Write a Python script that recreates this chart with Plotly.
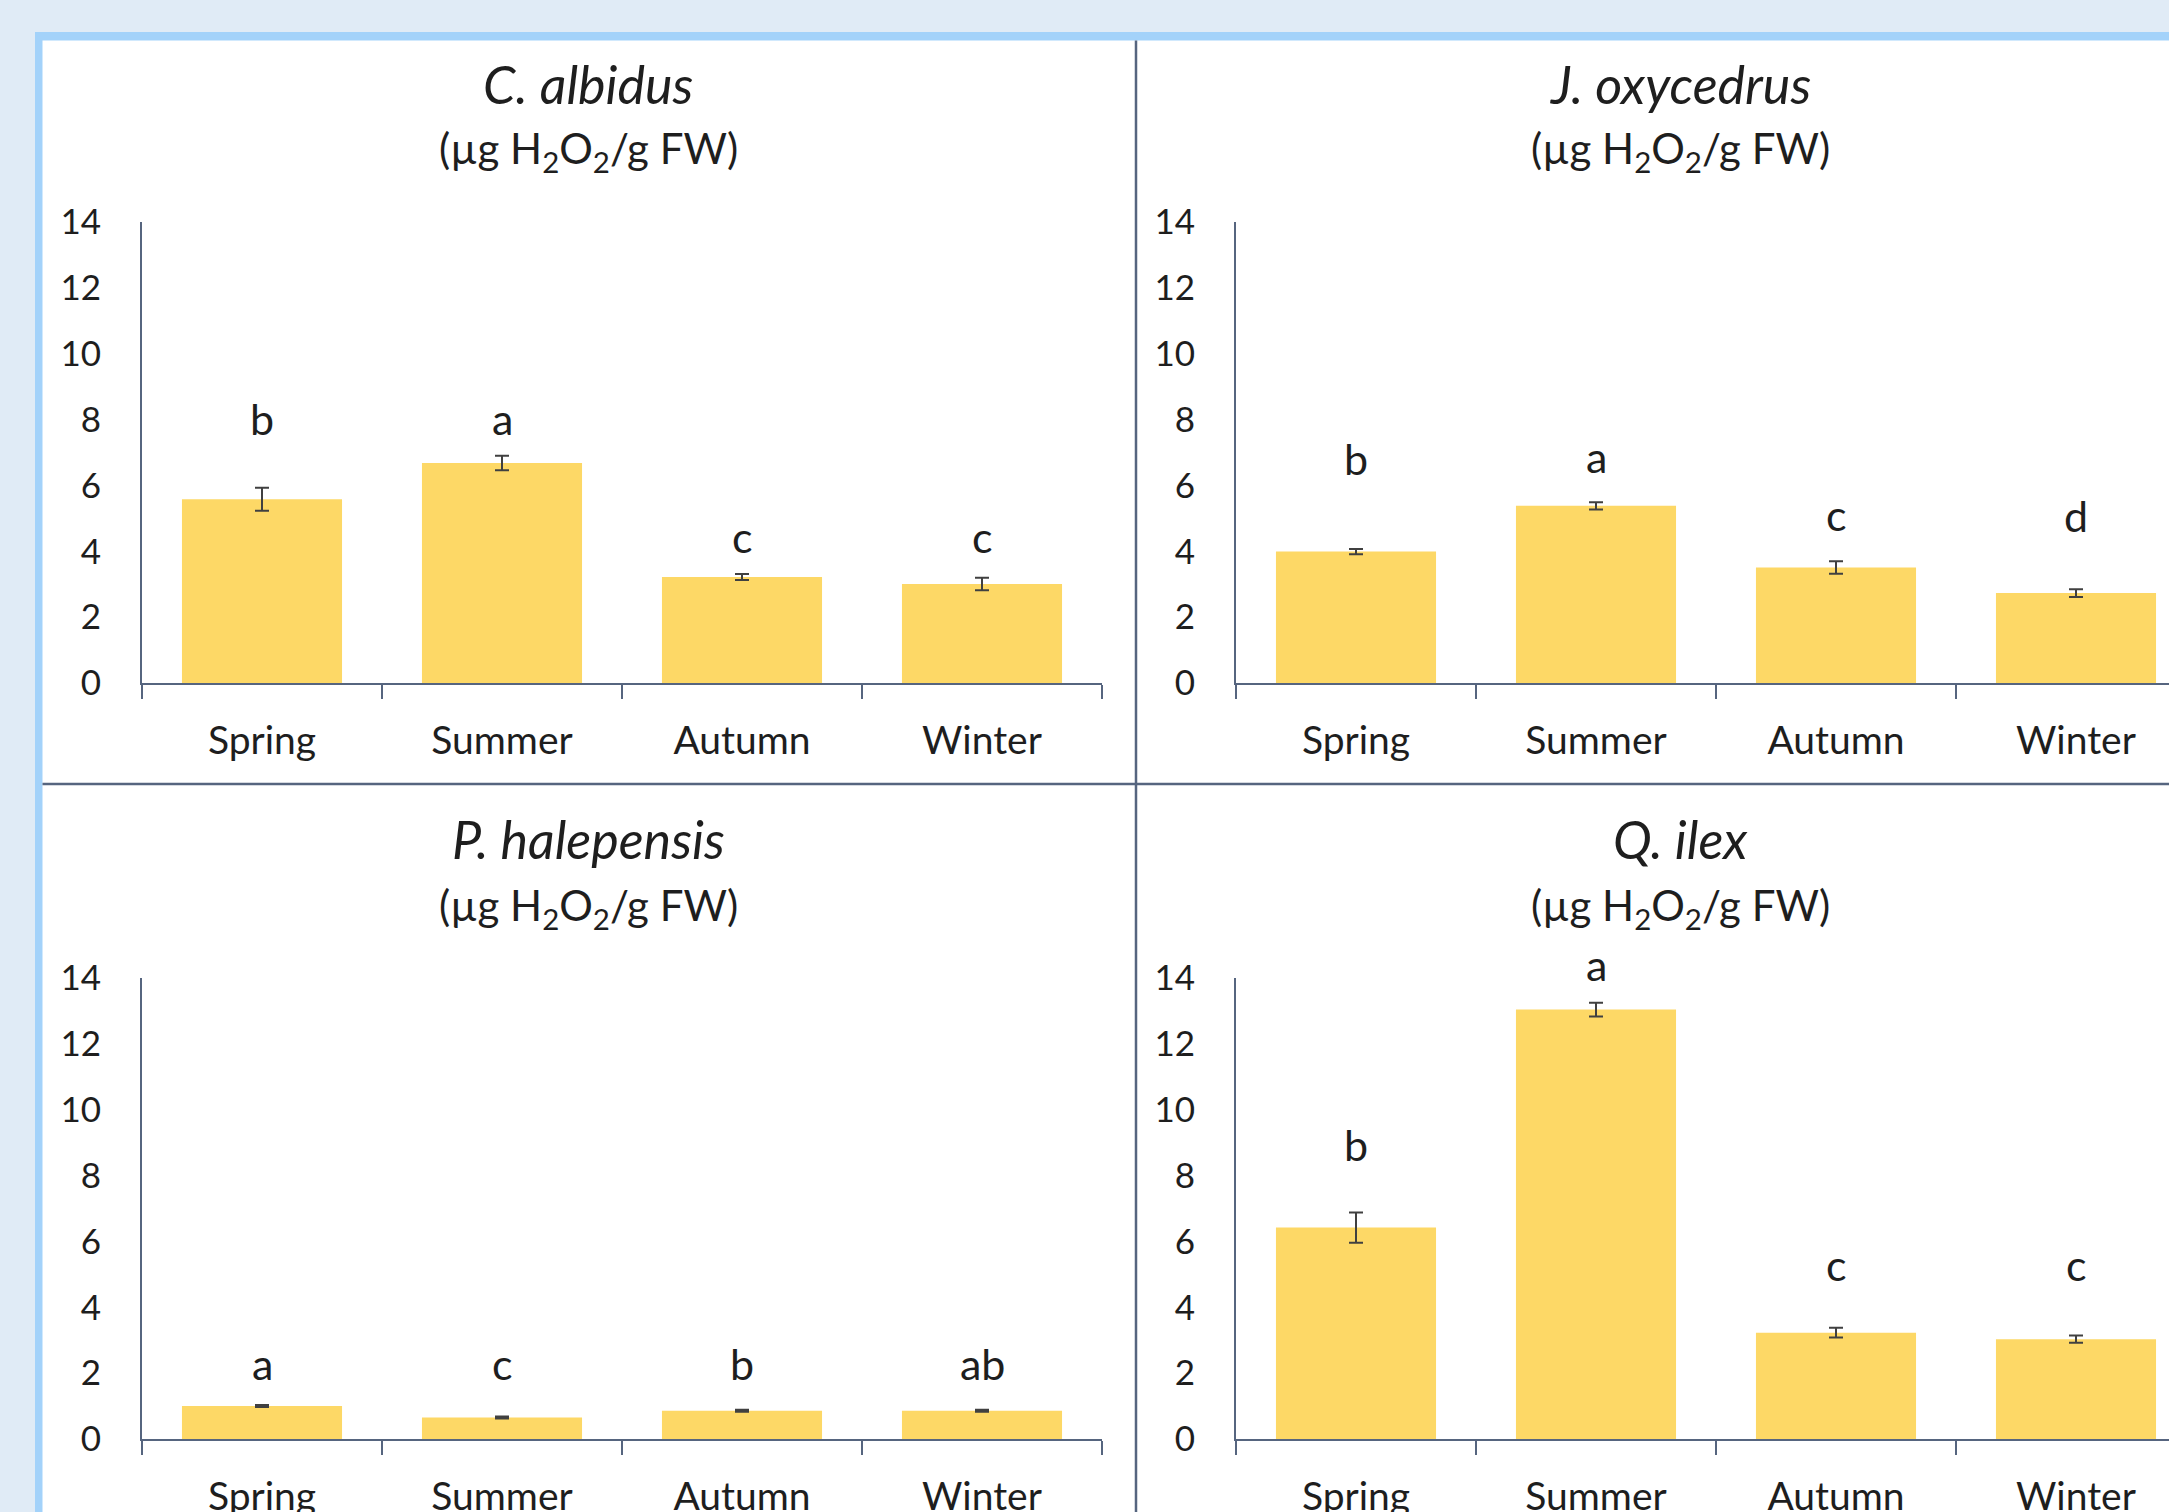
import plotly.graph_objects as go
from plotly.subplots import make_subplots

seasons = ["Spring", "Summer", "Autumn", "Winter"]
species = ["C. albidus", "J. oxycedrus", "P. halepensis", "Q. ilex"]
unit_label = "(µg H<sub>2</sub>O<sub>2</sub>/g FW)"

c_albidus = [5.58, 6.68, 3.22, 3.01]
c_albidus_err = [0.35, 0.22, 0.09, 0.19]
c_albidus_letters = ["b", "a", "c", "c"]
c_albidus_letter_y = [8.03, 8.03, 4.44, 4.44]

j_oxycedrus = [3.99, 5.38, 3.51, 2.73]
j_oxycedrus_err = [0.08, 0.11, 0.19, 0.12]
j_oxycedrus_letters = ["b", "a", "c", "d"]
j_oxycedrus_letter_y = [6.83, 6.89, 5.11, 5.08]

p_halepensis = [1.0, 0.65, 0.86, 0.86]
p_halepensis_err = [0.03, 0.03, 0.03, 0.03]
p_halepensis_letters = ["a", "c", "b", "ab"]
p_halepensis_letter_y = [2.28, 2.28, 2.28, 2.28]

q_ilex = [6.42, 13.04, 3.23, 3.03]
q_ilex_err = [0.46, 0.21, 0.15, 0.11]
q_ilex_letters = ["b", "a", "c", "c"]
q_ilex_letter_y = [8.95, 14.4, 5.3, 5.3]

y_ticks = [0, 2, 4, 6, 8, 10, 12, 14]

W, H = 2169, 1512
FONT = "Lato, Calibri, Carlito, sans-serif"
BAR = "#FDD866"
AX = "#56657f"
TXT = "#1e1e1e"
Y_MAX = max(y_ticks)

def px(x):
    return x / W

def py(y):
    return 1 - y / H

fig = make_subplots(rows=2, cols=2, horizontal_spacing=0.05, vertical_spacing=0.05)

panels = [
    (1, 1, c_albidus, c_albidus_err, c_albidus_letters, c_albidus_letter_y),
    (1, 2, j_oxycedrus, j_oxycedrus_err, j_oxycedrus_letters, j_oxycedrus_letter_y),
    (2, 1, p_halepensis, p_halepensis_err, p_halepensis_letters, p_halepensis_letter_y),
    (2, 2, q_ilex, q_ilex_err, q_ilex_letters, q_ilex_letter_y),
]

for i, (r, c, vals, errs, letters, ly) in enumerate(panels):
    fig.add_trace(
        go.Bar(
            x=seasons, y=vals, marker=dict(color=BAR, line=dict(width=0)),
            error_y=dict(type="data", array=errs, visible=True, color="#404040",
                         thickness=2, width=7),
            showlegend=False, hoverinfo="skip",
        ),
        row=r, col=c,
    )
    xref = "x" if i == 0 else f"x{i+1}"
    yref = "y domain" if i == 0 else f"y{i+1} domain"
    for s, t, yy in zip(seasons, letters, ly):
        fig.add_annotation(x=s, y=yy / Y_MAX, xref=xref, yref=yref, text=t,
                           showarrow=False, xanchor="center", yanchor="middle",
                           font=dict(family=FONT, size=43, color=TXT))

# axis geometry (pixels)
cat_w = 240.0
left_x0 = 142
right_x0 = 1236
top_y0, top_y1 = 683, 222
bot_y0, bot_y1 = 1439, 978

xdomains = {1: [px(left_x0), px(left_x0 + 4 * cat_w)], 2: [px(right_x0), 1.0]}
xranges = {1: [-0.5, 3.5], 2: [-0.5, -0.5 + (W - right_x0) / cat_w]}
ydomains = {1: [py(top_y0), py(top_y1)], 2: [py(bot_y0), py(bot_y1)]}

for r in (1, 2):
    for c in (1, 2):
        fig.update_xaxes(domain=xdomains[c], range=xranges[c], row=r, col=c,
                         automargin=False,
                         showline=True, linecolor=AX, linewidth=2,
                         ticks="outside", tickson="boundaries", ticklen=14,
                         tickwidth=2, tickcolor=AX, showgrid=False, zeroline=False,
                         ticklabelstandoff=22,
                         tickfont=dict(family=FONT, size=39, color=TXT))
        fig.update_yaxes(domain=ydomains[r], range=[0, Y_MAX], row=r, col=c,
                         automargin=False,
                         tickvals=y_ticks, showline=True, linecolor=AX, linewidth=2,
                         ticks="", showgrid=False, zeroline=False,
                         ticklabelstandoff=32,
                         tickfont=dict(family=FONT, size=35, color=TXT))

# titles
title_pos = [(588, 84, 151), (1680, 84, 151), (588, 839, 908), (1680, 839, 908)]
for name, (cx, ty, sy) in zip(species, title_pos):
    fig.add_annotation(x=px(cx), y=py(ty), xref="paper", yref="paper",
                       text=f"<i>{name}</i>", showarrow=False,
                       xanchor="center", yanchor="middle",
                       font=dict(family=FONT, size=52, color=TXT))
    fig.add_annotation(x=px(cx), y=py(sy), xref="paper", yref="paper",
                       text=unit_label, showarrow=False,
                       xanchor="center", yanchor="middle",
                       font=dict(family=FONT, size=42, color=TXT))

shapes = [
    dict(type="rect", xref="paper", yref="paper", x0=px(35), x1=1.02, y0=-0.02, y1=py(32),
         fillcolor="#a3d2fa", line=dict(width=0), layer="below"),
    dict(type="rect", xref="paper", yref="paper", x0=px(42.5), x1=1.02, y0=-0.02, y1=py(40.5),
         fillcolor="#ffffff", line=dict(width=0), layer="below"),
    dict(type="line", xref="paper", yref="paper", x0=px(1136), x1=px(1136), y0=-0.02, y1=py(40.5),
         line=dict(color=AX, width=2.5), layer="below"),
    dict(type="line", xref="paper", yref="paper", x0=px(42.5), x1=1.02, y0=py(784), y1=py(784),
         line=dict(color=AX, width=2.5), layer="below"),
]

fig.update_layout(
    width=W, height=H, margin=dict(l=0, r=0, t=0, b=0, autoexpand=False),
    paper_bgcolor="#e0ebf6", plot_bgcolor="rgba(0,0,0,0)",
    bargap=0.333, shapes=shapes, font=dict(family=FONT, color=TXT),
)

fig.write_html(
    "out.html",
    config={"displayModeBar": False},
    post_script="document.body.style.margin='0';document.body.style.background='#e0ebf6';",
)
